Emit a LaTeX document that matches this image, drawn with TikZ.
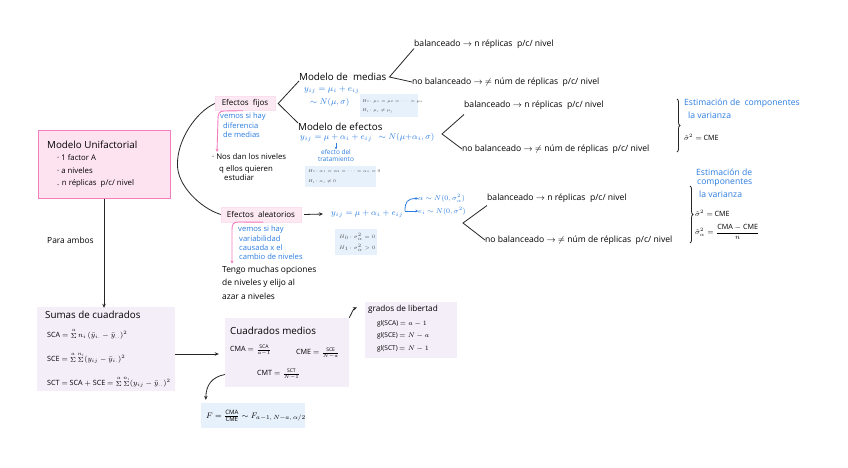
\documentclass[tikz,border=0pt]{standalone}
\usepackage{fix-cm}
\usepackage{fontspec}
\setmainfont{Open Sans}
\usetikzlibrary{arrows.meta,decorations.pathreplacing}
\definecolor{pinkb}{HTML}{F27DBF}
\definecolor{pinkf}{HTML}{FDE3F0}
\definecolor{pinkl}{HTML}{FCE9F2}
\definecolor{bluet}{HTML}{2B7CE0}
\definecolor{bluef}{HTML}{E7F1FC}
\definecolor{lavf}{HTML}{F4EEF9}
\begin{document}
\begin{tikzpicture}[x=1pt,y=-1pt,
  every node/.style={inner sep=0pt},
  t/.style={anchor=west, font=\fontsize{7.8}{9}\selectfont},
  bt/.style={anchor=west, font=\fontsize{8.6}{10}\selectfont},
  tb/.style={anchor=west, font=\fontsize{7.6}{9}\selectfont, text=bluet},
  tbe/.style={anchor=west, font=\fontsize{8.6}{10}\selectfont, text=bluet},
  sb/.style={anchor=center, font=\fontsize{6.5}{7.5}\selectfont, text=bluet},
  ttl/.style={anchor=west, font=\fontsize{9.8}{11}\selectfont},
  hyp/.style={anchor=west, font=\fontsize{4.2}{5}\selectfont, text=black!70},
  fm/.style={anchor=west, font=\fontsize{7.2}{8}\selectfont},
  conn/.style={draw=black!85, line width=0.8pt},
  arr/.style={conn, -{Stealth[length=4pt,width=3.5pt]}},
  pinkarrow/.style={draw=pinkb, line width=0.9pt, -{Stealth[length=3pt,width=3pt]}},
  bluearr/.style={draw=bluet, line width=0.8pt, -{Stealth[length=2.5pt,width=2.5pt]}},
  hbox/.style={fill=bluef},
  lbox/.style={fill=lavf},
  brc/.style={conn, decorate, decoration={brace, amplitude=3pt}}
]
\useasboundingbox (0,0) rectangle (848,468);
\fill[white] (0,0) rectangle (848,468);

% ---------- Modelo Unifactorial ----------
\node[draw=pinkb, fill=pinkf, line width=1pt, minimum width=132, minimum height=67] (uni) at (104,164.5) {};
\node[ttl] (unit) at (47,145) {Modelo Unifactorial};
\node[t] (u1) at (57,158) {· 1 factor A};
\node[t] (u2) at (57,171) {· a niveles};
\node[t] (u3) at (57,183.5) {. n réplicas\ \ p/c/ nivel};

% ---------- Efectos fijos / aleatorios ----------
\node[fill=pinkl, draw=pinkb!25, minimum width=60, minimum height=14, font=\fontsize{8}{9}\selectfont] (ef) at (245,103.5) {Efectos\ \ fijos};
\node[fill=pinkl, draw=pinkb!25, minimum width=80, minimum height=15, font=\fontsize{8}{9}\selectfont] (ea) at (261,214.5) {Efectos\ \ aleatorios};
\coordinate (apx) at ([xshift=7pt]uni.east);
\draw[conn] (ef.west) .. controls (196,112) and (177,140) .. (apx) .. controls (177,185) and (200,208) .. (ea.west);

% ---------- Fijos branch ----------
\node[ttl] (mm) at (299,77) {Modelo de\ \ medias};
\node[tb, font=\fontsize{8.4}{9}\selectfont] (mmeq) at (304,90) {$y_{ij}=\mu_i+e_{ij}$};
\node[tb, font=\fontsize{8.4}{9}\selectfont] (mmn) at (310,102.5) {$\sim N(\mu,\sigma)$};
\node[hbox, minimum width=58, minimum height=23] (h1) at (388.5,106) {};
\node[hyp] at (362,101) {$H_0\!:\mu_1=\mu_2=\cdots=\mu_a$};
\node[hyp] at (362,111) {$H_1\!:\mu_i\neq\mu_j$};

\node[bt] (bal1) at (414,44) {balanceado $\rightarrow$ n réplicas\ \ p/c/ nivel};
\node[bt] (nobal1) at (412,82) {no balanceado $\rightarrow$ $\neq$ núm de réplicas\ \ p/c/ nivel};
\draw[conn] (bal1.south west) -- ([xshift=3pt]mm.east) -- (nobal1.west);

\node[ttl] (me) at (298,127) {Modelo de efectos};
\draw[conn] (mm.south west) -- ([xshift=3pt]ef.east) -- (me.north west);
\node[tb, font=\fontsize{8.4}{9}\selectfont] (meeq) at (300,137.5) {$y_{ij}=\mu+\alpha_i+e_{ij}\ \ \sim N(\mu{+}\alpha_i,\sigma)$};
\node[sb] (efd) at (336,152) {efecto del};
\node[sb] (tra) at (336,159.5) {tratamiento};
\draw[bluearr] (336,142.5) -- (efd.north);
\node[hbox, minimum width=71, minimum height=21] (h2) at (340.5,176.5) {};
\node[hyp] at (308,171) {$H_0\!:\alpha_1=\alpha_2=\cdots=\alpha_a=0$};
\node[hyp] at (308,181.5) {$H_1\!:\alpha_i\neq 0$};

\node[bt] (bal2) at (464,105) {balanceado $\rightarrow$ n réplicas\ \ p/c/ nivel};
\node[bt] (nobal2) at (462,149) {no balanceado $\rightarrow$ $\neq$ núm de réplicas\ \ p/c/ nivel};
\coordinate (apx2) at (442,134);
\draw[conn] ([yshift=-5pt]bal2.south west) -- (apx2) -- (nobal2.west);
\draw[brc] (677,99) -- (677,152);
\node[tbe] (est1) at (684,103) {Estimación de\ \ componentes};
\node[tbe] (est1b) at (688,115) {la varianza};
\node[fm] (s1) at (684,137) {$\hat{\sigma}^2=$ CME};

\node[tb] (v1) at (220,116.5) {vemos si hay};
\node[tb] (v2) at (223,125.5) {diferencia};
\node[tb] (v3) at (223,135) {de medias};
\node[t] (nos) at (212,157) {· Nos dan los niveles};
\node[t] (nos2) at (219,169) {q ellos quieren};
\node[t] (nos3) at (224,178) {estudiar};
\draw[pinkarrow] ([xshift=-2pt]ef.south) -- (224,111) .. controls (219,111) and (218,114) .. (218,119) -- ([xshift=5pt,yshift=2pt]nos.north west);

% ---------- Aleatorios branch ----------
\node[tb, font=\fontsize{8.4}{9}\selectfont] (eaeq) at (331,214) {$y_{ij}=\mu+\alpha_i+e_{ij}$};
\draw[arr] ([xshift=3pt]ea.east) -- ([xshift=-8pt]eaeq.west);
\node[tb, font=\fontsize{7}{8}\selectfont] (al) at (418,198.5) {$\alpha\sim N(0,\sigma^{2}_{\alpha})$};
\node[tb, font=\fontsize{7}{8}\selectfont] (ei) at (418,211) {$e_i\sim N(0,\sigma^{2})$};
\coordinate (bsplit) at (405,211);
\draw[bluearr] (bsplit) -- (ei.west);
\draw[bluearr] (bsplit) .. controls (405,202) and (407,198.5) .. (al.west);
\node[hbox, minimum width=42, minimum height=26] (h3) at (356,242) {};
\node[hyp, font=\fontsize{5}{6}\selectfont] at (339,236.5) {$H_0\!:\sigma^2_\alpha=0$};
\node[hyp, font=\fontsize{5}{6}\selectfont] at (339,247.5) {$H_1\!:\sigma^2_\alpha>0$};

\node[bt] (bal3) at (487,198) {balanceado $\rightarrow$ n réplicas\ \ p/c/ nivel};
\node[bt] (nobal3) at (485,240) {no balanceado $\rightarrow$ $\neq$ núm de réplicas\ \ p/c/ nivel};
\coordinate (apx3) at (463,223);
\draw[conn] ([yshift=-3pt]bal3.south west) -- (apx3) -- (nobal3.west);
\draw[brc] (690,186) -- (690,243);
\node[tbe] (e2a) at (696,172) {Estimación de};
\node[tbe] (e2b) at (697,183) {componentes};
\node[tbe] (e2c) at (699,194) {la varianza};
\node[fm] (s2) at (695,213) {$\hat{\sigma}^2=$ CME};
\node[fm] (s3) at (695,232) {$\hat{\sigma}^2_\alpha={\displaystyle\frac{\mathrm{CMA}-\mathrm{CME}}{n}}$};

\node[tb] (w1) at (238,230) {vemos si hay};
\node[tb] (w2) at (239,239) {variabilidad};
\node[tb] (w3) at (239,248) {causada x el};
\node[tb] (w4) at (239,256.5) {cambio de niveles};
\node[t, font=\fontsize{8.4}{9}\selectfont] (tg1) at (222,270) {Tengo muchas opciones};
\node[t, font=\fontsize{8.4}{9}\selectfont] (tg2) at (222,283) {de niveles y elijo al};
\node[t, font=\fontsize{8.4}{9}\selectfont] (tg3) at (222,296) {azar a niveles};
\draw[pinkarrow] ([xshift=2pt]ea.south) -- (238,222) .. controls (233,222) and (232,225) .. (232,230) -- ([xshift=10pt,yshift=2pt]tg1.north west);

% ---------- Bottom ----------
\node[t, font=\fontsize{8.4}{9}\selectfont] (pa) at (47,240) {Para ambos};
\node[lbox, minimum width=138, minimum height=84] (sc) at (106,349) {};
\draw[arr] (uni.south) -- ([yshift=-1pt]uni.south |- sc.north);
\node[ttl] (sct) at (45,315) {Sumas de cuadrados};
\node[fm] (f1) at (47,334) {SCA $=\mathop{\Sigma}\limits^{a} n_i\,(\bar{y}_{i.}-\bar{y}_{..})^2$};
\node[fm] (f2) at (47,358) {SCE $=\mathop{\Sigma}\limits^{a}\mathop{\Sigma}\limits^{n_i}(y_{ij}-\bar{y}_{i.})^2$};
\node[fm] (f3) at (47,382) {SCT $=$ SCA $+$ SCE $=\mathop{\Sigma}\limits^{a}\mathop{\Sigma}\limits^{n_i}(y_{ij}-\bar{y}_{..})^2$};

\node[lbox, minimum width=124, minimum height=69] (cm) at (287,352.5) {};
\draw[arr] (sc.east |- 0,354) -- ([xshift=-6pt]cm.west |- 0,354);
\node[ttl] (cmt) at (230,331) {Cuadrados medios};
\node[fm] (c1) at (230,350) {CMA $=\frac{\mathrm{SCA}}{a-1}$};
\node[fm] (c2) at (296,353) {CME $=\frac{\mathrm{SCE}}{N-a}$};
\node[fm] (c3) at (257,374) {CMT $=\frac{\mathrm{SCT}}{N-1}$};

\node[lbox, minimum width=92, minimum height=56] (gl) at (411,329.5) {};
\draw[arr] (cm.north east) .. controls (352,313) and (353,309) .. (357,307.5);
\node[fm, font=\fontsize{8.2}{9}\selectfont] (glt) at (368,309) {grados de libertad};
\node[fm, font=\fontsize{6.6}{8}\selectfont] (g1) at (377,323.5) {gl(SCA)$\,=a-1$};
\node[fm, font=\fontsize{6.6}{8}\selectfont] (g2) at (377,336) {gl(SCE)$\,=N-a$};
\node[fm, font=\fontsize{6.6}{8}\selectfont] (g3) at (377,349) {gl(SCT)$\,=N-1$};

\node[hbox, minimum width=104, minimum height=25] (fb) at (253,415.5) {};
\node[fm, font=\fontsize{8}{10}\selectfont] (ff) at (206,416) {$F=\frac{\mathrm{CMA}}{\mathrm{CME}}\sim F_{a-1,\,N-a,\,\alpha/2}$};
\draw[arr] ([yshift=-22pt]cm.west) .. controls (212,377) and (206,385) .. ([xshift=5pt,yshift=3pt]fb.north west);
\end{tikzpicture}
\end{document}
